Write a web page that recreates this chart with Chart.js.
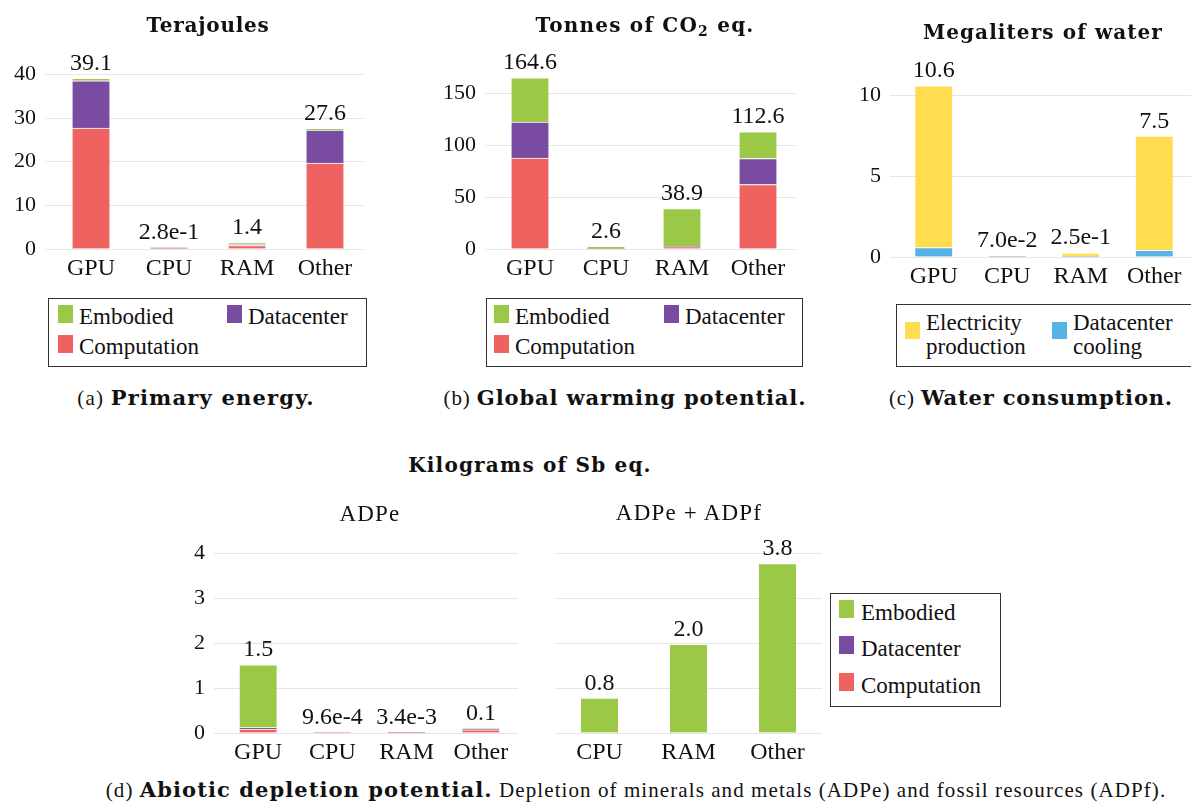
<!DOCTYPE html>
<html>
<head>
<meta charset="utf-8">
<script src="https://cdn.jsdelivr.net/npm/chart.js@4.4.0/dist/chart.umd.min.js"></script>
<style>
body { margin: 0; background: #fff; width: 1191px; height: 807px; overflow: hidden; position: relative;
       font-family: 'Liberation Serif', serif; color: #111; }
canvas { position: absolute; }
.t { position: absolute; white-space: nowrap; line-height: 1; transform: translate(-50%, -50%); }
.b, .t b { font-family: 'DejaVu Serif', serif; font-weight: bold; }
.t sub { font-size: 0.7em; line-height: 0; vertical-align: -0.25em; }
.box { position: absolute; border: 1.3px solid #333; box-sizing: border-box; }
.sw { position: absolute; width: 15px; height: 18px; }
.lt { position: absolute; white-space: nowrap; font-size: 23px; line-height: 24px; }
</style>
</head>
<body>

<canvas id="energyChart"></canvas>
<canvas id="gwpChart"></canvas>
<canvas id="waterChart"></canvas>
<canvas id="adpeChart"></canvas>
<canvas id="adpfChart"></canvas>

<!-- titres -->
<div class="t b" style="left:208px;top:25px;font-size:20px" data-w="123">Terajoules</div>
<div class="t b" style="left:645px;top:25px;font-size:20px" data-w="224">Tonnes of CO<sub>2</sub> eq.</div>
<div class="t b" style="left:1043px;top:32px;font-size:20px" data-w="240">Megaliters of water</div>
<div class="t b" style="left:530px;top:465px;font-size:20px" data-w="244">Kilograms of Sb eq.</div>
<div class="t" style="left:370px;top:513px;font-size:23px" data-w="64">ADPe</div>
<div class="t" style="left:689px;top:512px;font-size:23px" data-w="162">ADPe + ADPf</div>

<!-- legendas -->
<div class="box" style="left:48px;top:298px;width:319px;height:69px"></div>
<div class="sw" style="left:58px;top:305px;background:#9BC847"></div>
<div class="lt" style="left:79px;top:305px">Embodied</div>
<div class="sw" style="left:227px;top:305px;background:#7A4CA1"></div>
<div class="lt" style="left:248px;top:305px">Datacenter</div>
<div class="sw" style="left:58px;top:335px;background:#EE6360"></div>
<div class="lt" style="left:79px;top:335px">Computation</div>

<div class="box" style="left:486px;top:298px;width:317px;height:69px"></div>
<div class="sw" style="left:494px;top:305px;background:#9BC847"></div>
<div class="lt" style="left:515px;top:305px">Embodied</div>
<div class="sw" style="left:664px;top:305px;background:#7A4CA1"></div>
<div class="lt" style="left:685px;top:305px">Datacenter</div>
<div class="sw" style="left:494px;top:335px;background:#EE6360"></div>
<div class="lt" style="left:515px;top:335px">Computation</div>

<div class="box" style="left:896px;top:304px;width:320px;height:63px"></div>
<div class="sw" style="left:905px;top:322px;height:17px;background:#FFDC50"></div>
<div class="lt" style="left:926px;top:311px">Electricity<br>production</div>
<div class="sw" style="left:1052px;top:322px;height:17px;background:#57B3E6"></div>
<div class="lt" style="left:1073px;top:311px">Datacenter<br>cooling</div>

<div class="box" style="left:830px;top:593px;width:171px;height:114px"></div>
<div class="sw" style="left:839px;top:600px;background:#9BC847"></div>
<div class="lt" style="left:861px;top:601px">Embodied</div>
<div class="sw" style="left:839px;top:636px;background:#7A4CA1"></div>
<div class="lt" style="left:861px;top:637px">Datacenter</div>
<div class="sw" style="left:839px;top:673px;background:#EE6360"></div>
<div class="lt" style="left:861px;top:674px">Computation</div>

<!-- legendas das figuras -->
<div class="t" style="left:196px;top:398px;font-size:21px" data-w="239">(a) <b>Primary energy.</b></div>
<div class="t" style="left:625px;top:398px;font-size:21px" data-w="363">(b) <b>Global warming potential.</b></div>
<div class="t" style="left:1031px;top:398px;font-size:21px" data-w="284">(c) <b>Water consumption.</b></div>
<div class="t" style="left:636px;top:790px;font-size:21px" data-w="1060">(d) <b>Abiotic depletion potential.</b> Depletion of minerals and metals (ADPe) and fossil resources (ADPf).</div>

<script>
const categories = ['GPU', 'CPU', 'RAM', 'Other'];

// (a) energia primária, TJ
const energyComputation = [27.7, 0.18, 0.8, 19.7];
const energyDatacenter  = [10.85, 0.06, 0.25, 7.55];
const energyEmbodied    = [0.55, 0.04, 0.35, 0.35];
const energyLabels      = ['39.1', '2.8e-1', '1.4', '27.6'];
const energyTicks       = [0, 10, 20, 30, 40];

// (b) GWP, t CO2 eq.
const gwpComputation = [87.5, 0.3, 2.2, 62.0];
const gwpDatacenter  = [34.6, 0.1, 0.4, 25.0];
const gwpEmbodied    = [42.5, 2.2, 36.3, 25.6];
const gwpLabels      = ['164.6', '2.6', '38.9', '112.6'];
const gwpTicks       = [0, 50, 100, 150];

// (c) água, ML
const waterCooling     = [0.58, 0.005, 0.02, 0.41];
const waterElectricity = [10.0, 0.065, 0.23, 7.07];
const waterLabels      = ['10.6', '7.0e-2', '2.5e-1', '7.5'];
const waterTicks       = [0, 5, 10];

// (d) ADPe, kg Sb eq.
const adpeComputation = [0.09, 0.0005, 0.002, 0.07];
const adpeDatacenter  = [0.03, 0.0002, 0.0006, 0.02];
const adpeEmbodied    = [1.40, 0.00026, 0.0008, 0.01];
const adpeLabels      = ['1.5', '9.6e-4', '3.4e-3', '0.1'];
const adpTicks        = [0, 1, 2, 3, 4];

// (d) ADPe + ADPf
const fossilCategories = ['CPU', 'RAM', 'Other'];
const adpfEmbodied     = [0.78, 1.98, 3.78];
const adpfLabels       = ['0.8', '2.0', '3.8'];

const GREEN = '#9BC847', PURPLE = '#7A4CA1', RED = '#EE6360', YELLOW = '#FFDC50', BLUE = '#57B3E6';
const FONT = "'Liberation Serif', serif";
const PAD_TOP = 30, X_AXIS_H = 32;

/**
 * Escreve o total por cima de cada barra
 */
const totalLabels = {
    id: 'totalLabels',
    afterDatasetsDraw(chart, args, opts) {
        const ctx = chart.ctx;
        const yScale = chart.scales.y;
        const meta = chart.getDatasetMeta(0);
        ctx.save();
        ctx.font = '24px ' + FONT;
        ctx.fillStyle = '#111';
        ctx.textAlign = 'center';
        ctx.textBaseline = 'alphabetic';
        opts.labels.forEach((text, i) => {
            let total = 0;
            chart.data.datasets.forEach(ds => total += ds.data[i]);
            ctx.fillText(text, meta.data[i].x, yScale.getPixelForValue(total) - 8.5);
        });
        ctx.restore();
    }
};

function dataset(label, data, color) {
    return {
        label: label,
        data: data,
        backgroundColor: color,
        borderColor: '#ffffff',
        borderWidth: { top: 1, left: 0, right: 0, bottom: 0 },
        borderSkipped: false,
        barThickness: 37
    };
}

/**
 * Cria um gráfico de barras empilhadas numa área de desenho fixa
 * box: left/right da zona das categorias, zeroY, top, axisW (em px da página), ppu = px por unidade
 */
function drawStacked(id, box, labels, datasets, totals, ticks) {
    const canvas = document.getElementById(id);
    const canvasLeft = box.left - box.axisW;
    const canvasTop = box.top - PAD_TOP;
    canvas.width = box.right - canvasLeft;
    canvas.height = box.zeroY - canvasTop + X_AXIS_H;
    canvas.style.left = canvasLeft + 'px';
    canvas.style.top = canvasTop + 'px';

    const showTicks = box.axisW > 0;

    return new Chart(canvas.getContext('2d'), {
        type: 'bar',
        data: { labels: labels, datasets: datasets },
        plugins: [totalLabels],
        options: {
            responsive: false,
            animation: false,
            devicePixelRatio: 1,
            layout: { padding: { top: PAD_TOP, left: 0, right: 0, bottom: 0 } },
            plugins: {
                legend: { display: false },
                tooltip: { enabled: false },
                totalLabels: { labels: totals }
            },
            scales: {
                x: {
                    stacked: true,
                    offset: true,
                    grid: { display: false, drawTicks: false },
                    border: { display: false },
                    ticks: { padding: 5, color: '#111', font: { family: FONT, size: 24 } },
                    afterFit: s => { s.height = X_AXIS_H; }
                },
                y: {
                    stacked: true,
                    min: 0,
                    max: (box.zeroY - box.top) / box.ppu,
                    afterBuildTicks: s => { s.ticks = ticks.map(v => ({ value: v })); },
                    afterFit: s => { s.width = box.axisW; },
                    grid: { color: '#e6e6e6', lineWidth: 1, drawTicks: showTicks, tickLength: 7 },
                    border: { display: false },
                    ticks: { display: showTicks, padding: 9, color: '#111', font: { family: FONT, size: 22 } }
                }
            }
        }
    });
}

drawStacked('energyChart', { left: 52, right: 364, zeroY: 249, top: 45, ppu: 4.365, axisW: 50 },
    categories,
    [dataset('Computation', energyComputation, RED),
     dataset('Datacenter', energyDatacenter, PURPLE),
     dataset('Embodied', energyEmbodied, GREEN)],
    energyLabels, energyTicks);

drawStacked('gwpChart', { left: 492, right: 796, zeroY: 249, top: 45, ppu: 1.04, axisW: 50 },
    categories,
    [dataset('Computation', gwpComputation, RED),
     dataset('Datacenter', gwpDatacenter, PURPLE),
     dataset('Embodied', gwpEmbodied, GREEN)],
    gwpLabels, gwpTicks);

drawStacked('waterChart', { left: 897, right: 1191, zeroY: 257, top: 45, ppu: 16.17, axisW: 50 },
    categories,
    [dataset('Datacenter cooling', waterCooling, BLUE),
     dataset('Electricity production', waterElectricity, YELLOW)],
    waterLabels, waterTicks);

drawStacked('adpeChart', { left: 221, right: 518, zeroY: 733, top: 530, ppu: 44.83, axisW: 50 },
    categories,
    [dataset('Computation', adpeComputation, RED),
     dataset('Datacenter', adpeDatacenter, PURPLE),
     dataset('Embodied', adpeEmbodied, GREEN)],
    adpeLabels, adpTicks);

drawStacked('adpfChart', { left: 555, right: 822, zeroY: 733, top: 530, ppu: 44.83, axisW: 0 },
    fossilCategories,
    [dataset('Embodied', adpfEmbodied, GREEN)],
    adpfLabels, adpTicks);

// ajusta o espaçamento das letras para a largura do original
document.querySelectorAll('[data-w]').forEach(el => {
    const target = parseFloat(el.dataset.w);
    const w = el.getBoundingClientRect().width;
    const n = el.textContent.length;
    let ls = (target - w) / n;
    ls = Math.max(-1.2, Math.min(1.2, ls));
    if (n > 1) el.style.letterSpacing = ls.toFixed(2) + 'px';
});
</script>
</body>
</html>
